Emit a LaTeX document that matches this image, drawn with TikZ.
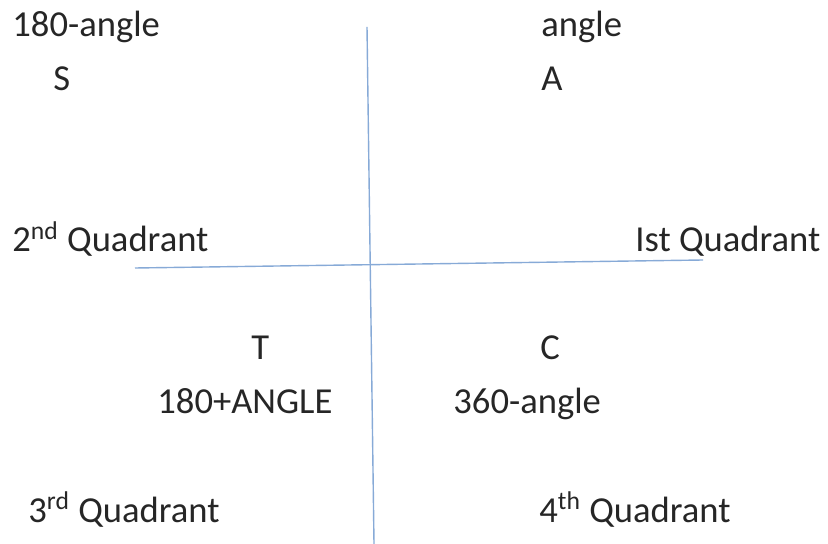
\documentclass[tikz,border=0pt]{standalone}
\usepackage{fontspec}
\setmainfont{Carlito}
\usepackage{tikz}
\usetikzlibrary{calc}

\definecolor{axisblue}{RGB}{135,170,215}

\begin{document}
\begin{tikzpicture}[x=0.5pt,y=-0.5pt,
  lbl/.style={anchor=base west, inner sep=0pt, font=\fontsize{18.3}{22}\selectfont, text=black!85},
  axis/.style={axisblue, line width=0.7pt}]
\useasboundingbox (0,0) rectangle (828,544);
% axes
\coordinate (xl) at (135,268);
\coordinate (xr) at (703,260);
\coordinate (yt) at (367,27);
\coordinate (yb) at (374,544);
\draw[axis] (xl) -- (xr);
\draw[axis] (yt) -- (yb);
% second quadrant
\node[lbl] (sang) at (12,37) {180-angle};
\node[lbl] (s) at (53,91) {S};
\node[lbl] (q2) at (12,252) {2\textsuperscript{nd} Quadrant};
% first quadrant
\node[lbl] (ang) at (541,37) {angle};
\node[lbl] (a) at (541,91) {A};
\node[lbl] (q1) at (635,252) {Ist Quadrant};
% third quadrant
\node[lbl] (t) at (251,359) {T};
\node[lbl] (tang) at (157,413) {180+ANGLE};
\node[lbl] (q3) at (28,522) {3\textsuperscript{rd} Quadrant};
% fourth quadrant
\node[lbl] (c) at (540,359) {C};
\node[lbl] (cang) at (453,413) {360-angle};
\node[lbl] (q4) at (539,522) {4\textsuperscript{th} Quadrant};
\end{tikzpicture}
\end{document}
